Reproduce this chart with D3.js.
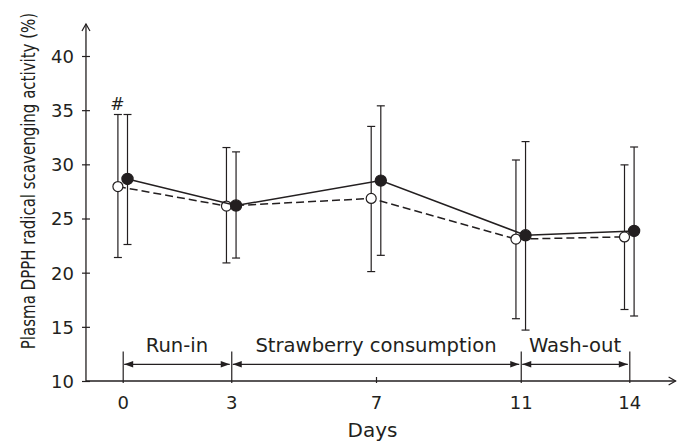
<!DOCTYPE html>
<html>
<head>
<meta charset="utf-8">
<script src="https://cdn.jsdelivr.net/npm/d3@7"></script>
<style>
  html, body { margin: 0; padding: 0; background: #fff; }
  svg { display: block; font-family: "DejaVu Sans", Verdana, sans-serif; }
</style>
</head>
<body>
<svg id="chart" width="688" height="442"></svg>
<script>
// ---- data ----
const days = [0, 3, 7, 11, 14];
const dayTicks = [0, 3, 7, 11, 14];
const yTicks = [10, 15, 20, 25, 30, 35, 40];

// filled circles, solid line
const filledMean  = [28.65, 26.2, 28.5, 23.45, 23.85];
const filledUpper = [34.6, 31.15, 35.4, 32.1, 31.6];
const filledLower = [22.6, 21.35, 21.6, 14.7, 16.0];

// open circles, dashed line
const openMean  = [27.95, 26.15, 26.85, 23.1, 23.3];
const openUpper = [34.6, 31.55, 33.5, 30.4, 29.95];
const openLower = [21.4, 20.9, 20.1, 15.75, 16.6];

const periodLabels = ["Run-in", "Strawberry consumption", "Wash-out"];
const periodStarts = [0, 3, 11];
const periodEnds   = [3, 11, 14];
const boundaryDays = [0, 3, 11, 14];

const yLabel = "Plasma DPPH radical scavenging activity (%)";
const xLabel = "Days";

// ---- layout ----
const ink = "#231f20";
const svg = d3.select("#chart");
const x = d3.scaleLinear().domain([0, 14]).range([122.7, 629.3]);
const y = d3.scaleLinear().domain([10, 40]).range([381, 56]);
const xMin = -1.015, xMax = 15.28, yMax = 42.95;
const off = 4.8; // horizontal offset between the two groups

// axes lines
svg.append("line").attr("x1", x(xMin)).attr("x2", x(xMax)).attr("y1", y(10)).attr("y2", y(10))
  .attr("stroke", ink).attr("stroke-width", 1.3);
svg.append("line").attr("x1", x(xMin)).attr("x2", x(xMin)).attr("y1", y(10)).attr("y2", y(yMax))
  .attr("stroke", ink).attr("stroke-width", 1.3);
// arrow heads (open chevrons)
svg.append("path")
  .attr("d", `M${x(xMin) - 4},${y(yMax) + 7} L${x(xMin)},${y(yMax)} L${x(xMin) + 4},${y(yMax) + 7}`)
  .attr("fill", "none").attr("stroke", ink).attr("stroke-width", 1.2);
svg.append("path")
  .attr("d", `M${x(xMax) - 7},${y(10) - 4} L${x(xMax)},${y(10)} L${x(xMax) - 7},${y(10) + 4}`)
  .attr("fill", "none").attr("stroke", ink).attr("stroke-width", 1.2);

// y ticks
const yAxis = d3.axisLeft(y).tickValues(yTicks).tickSize(0).tickPadding(0);
const gy = svg.append("g").attr("transform", `translate(${x(xMin)},0)`).call(yAxis);
gy.select(".domain").remove();
gy.selectAll(".tick line").attr("x1", -4).attr("x2", 4).attr("stroke", ink).attr("stroke-width", 1.2);
gy.selectAll(".tick text").attr("x", -12).attr("dy", "0.36em")
  .attr("font-size", 18).attr("fill", ink).attr("font-family", "DejaVu Sans, Verdana, sans-serif");

// x ticks
const xAxis = d3.axisBottom(x).tickValues(dayTicks).tickSize(0).tickPadding(0);
const gx = svg.append("g").attr("transform", `translate(0,${y(10)})`).call(xAxis);
gx.select(".domain").remove();
gx.selectAll(".tick line")
  .attr("y1", d => boundaryDays.includes(d) ? -29.5 : -4)
  .attr("y2", 2).attr("stroke", ink).attr("stroke-width", 1.2);
gx.selectAll(".tick text").attr("y", 27.5).attr("dy", 0)
  .attr("font-size", 18).attr("fill", ink).attr("font-family", "DejaVu Sans, Verdana, sans-serif");

// period arrows
const arrowY = 364.3;
const periods = periodLabels.map((l, i) => ({ label: l, s: periodStarts[i], e: periodEnds[i] }));
const pg = svg.append("g");
periods.forEach(p => {
  const a = x(p.s) + 1.5, b = x(p.e) - 1.5;
  pg.append("line").attr("x1", a).attr("x2", b).attr("y1", arrowY).attr("y2", arrowY)
    .attr("stroke", ink).attr("stroke-width", 1.2);
  pg.append("path").attr("d", `M${a},${arrowY} L${a + 9},${arrowY - 3.2} L${a + 9},${arrowY + 3.2} Z`).attr("fill", ink);
  pg.append("path").attr("d", `M${b},${arrowY} L${b - 9},${arrowY - 3.2} L${b - 9},${arrowY + 3.2} Z`).attr("fill", ink);
  pg.append("text").attr("x", (x(p.s) + x(p.e)) / 2).attr("y", 351.5)
    .attr("text-anchor", "middle").attr("font-size", 19.6).attr("fill", ink).text(p.label);
});

// series
function drawSeries(mean, upper, lower, dx, dashed, filled) {
  const pts = days.map((d, i) => ({ d, m: mean[i], u: upper[i], l: lower[i] }));
  const g = svg.append("g");
  // error bars
  pts.forEach(p => {
    const cx = x(p.d) + dx;
    g.append("line").attr("x1", cx).attr("x2", cx).attr("y1", y(p.u)).attr("y2", y(p.l))
      .attr("stroke", ink).attr("stroke-width", 1.2);
    [p.u, p.l].forEach(v => g.append("line").attr("x1", cx - 4).attr("x2", cx + 4)
      .attr("y1", y(v)).attr("y2", y(v)).attr("stroke", ink).attr("stroke-width", 1.2));
  });
  const line = d3.line().x(p => x(p.d) + dx).y(p => y(p.m));
  g.append("path").datum(pts).attr("d", line).attr("fill", "none")
    .attr("stroke", ink).attr("stroke-width", 1.5)
    .attr("stroke-dasharray", dashed ? "8,4" : null);
  g.selectAll("circle").data(pts).join("circle")
    .attr("cx", p => x(p.d) + dx).attr("cy", p => y(p.m))
    .attr("r", filled ? 5.6 : 5)
    .attr("fill", filled ? ink : "#fff").attr("stroke", ink).attr("stroke-width", 1.2);
}
drawSeries(openMean, openUpper, openLower, -off, true, false);
drawSeries(filledMean, filledUpper, filledLower, off, false, true);

// significance mark
svg.append("text").attr("x", x(days[0]) - off - 0.5).attr("y", y(openUpper[0]) - 4.5)
  .attr("text-anchor", "middle").attr("font-size", 17).attr("fill", ink).text("#");

// axis titles
svg.append("text").attr("x", 372.5).attr("y", 437).attr("text-anchor", "middle")
  .attr("font-size", 20).attr("fill", ink).text(xLabel);
svg.append("text").attr("transform", "translate(35,181) rotate(-90) scale(0.77,1)")
  .attr("text-anchor", "middle").attr("font-size", 19.5).attr("fill", ink).text(yLabel);
</script>
</body>
</html>
